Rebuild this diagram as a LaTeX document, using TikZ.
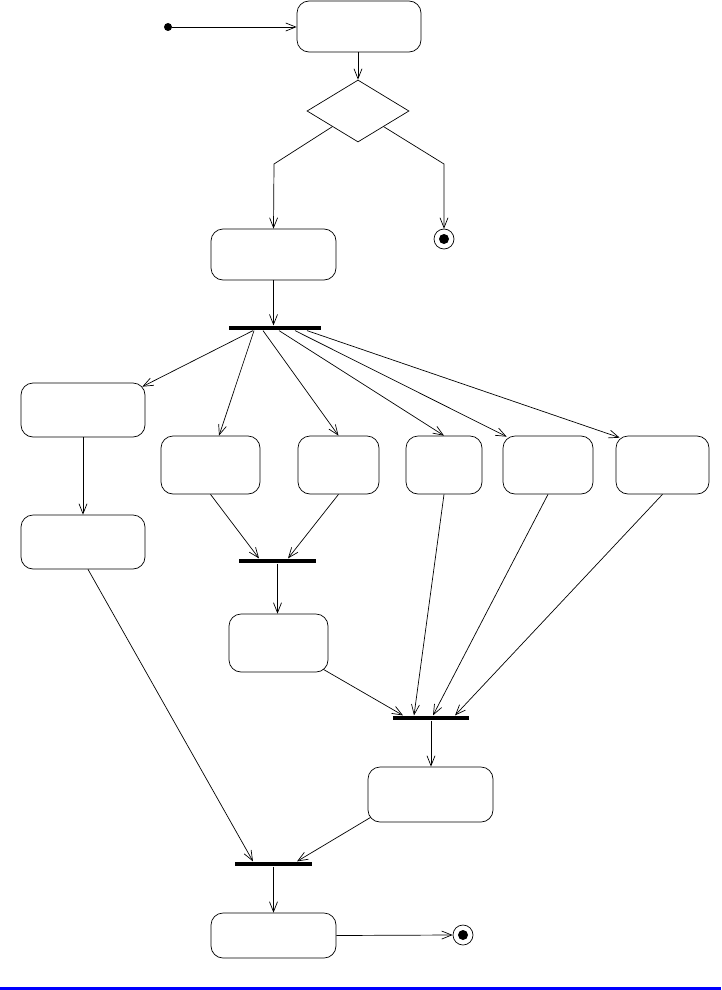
\documentclass[tikz,border=0pt]{standalone}
\usetikzlibrary{arrows.meta,shapes.geometric}

\begin{document}
\begin{tikzpicture}[x=1pt, y=-1pt, line width=0.7pt,
    flow/.style={-{Straight Barb[length=10pt,width=8pt]}},
    activity/.style={draw, rounded corners=12pt, inner sep=0pt},
    syncbar/.style={fill=black, inner sep=0pt, minimum height=4.5pt},
    startdot/.style={circle, fill=black, inner sep=0pt, minimum size=8pt},
    enddot/.style={circle, draw, inner sep=0pt, minimum size=20pt,
        path picture={\fill (path picture bounding box.center) circle (5pt);}},
    choice/.style={diamond, draw, inner sep=0pt, minimum width=102pt, minimum height=62pt}]
    \useasboundingbox (0,0) rectangle (721,990);

    % top: start, first activity, decision
    \node[startdot] (init) at (168,27) {};
    \node[activity, minimum width=124pt, minimum height=51pt] (A) at (359,26.5) {};
    \node[choice] (dia) at (358,111) {};
    \node[activity, minimum width=125pt, minimum height=51pt] (B) at (273.5,254.5) {};
    \node[enddot] (end1) at (444,239) {};
    \coordinate (bendL) at (274,164);
    \coordinate (bendR) at (444,164);

    \draw[flow] (init) -- (A.west |- init);
    \draw[flow] (A.south -| dia.north) -- (dia.north);
    \draw[flow] (dia.south west) -- (bendL) -- (B.north);
    \draw[flow] (dia.south east) -- (bendR) -- (end1.north);

    % fork into parallel activities
    \node[syncbar, minimum width=92pt] (fork1) at (275,328) {};
    \node[activity, minimum width=124pt, minimum height=54pt] (C) at (83,410) {};
    \node[activity, minimum width=124pt, minimum height=54pt] (I) at (83,542) {};
    \node[activity, minimum width=99pt, minimum height=58pt] (D) at (210.5,465) {};
    \node[activity, minimum width=81pt, minimum height=58pt] (E) at (338.5,465) {};
    \node[activity, minimum width=76pt, minimum height=58pt] (F) at (444,465) {};
    \node[activity, minimum width=90pt, minimum height=58pt] (G) at (548,465) {};
    \node[activity, minimum width=93pt, minimum height=58pt] (H) at (662.5,465) {};

    \draw[flow] (B.south) -- (B.south |- fork1.north);
    \draw[flow] ([xshift=-22pt]fork1.south) -- ([shift={(-3pt,-4pt)}]C.north east);
    \draw[flow] ([xshift=-21pt]fork1.south) -- ([xshift=8.5pt]D.north);
    \draw[flow] ([xshift=-12pt]fork1.south) -- (E.north);
    \draw[flow] ([xshift=4pt]fork1.south) -- (F.north);
    \draw[flow] ([xshift=20pt]fork1.south) -- ([xshift=4pt,yshift=-1pt]G.north west);
    \draw[flow] ([xshift=32pt]fork1.south) -- ([xshift=4pt,yshift=-2pt]H.north west);
    \draw[flow] (C.south) -- (I.north);

    % joins
    \node[syncbar, minimum width=77pt] (fork2) at (277.5,561) {};
    \node[activity, minimum width=99pt, minimum height=58pt] (J) at (278.5,643) {};
    \node[syncbar, minimum width=76pt] (fork3) at (431,718) {};
    \node[activity, minimum width=125pt, minimum height=55pt] (K) at (430.5,794.5) {};
    \node[syncbar, minimum width=77pt] (fork4) at (273.5,864) {};
    \node[activity, minimum width=125pt, minimum height=45pt] (L) at (273.5,935.5) {};
    \node[enddot] (end2) at (463,935) {};

    \draw[flow] (D.south) -- ([xshift=-18.5pt]fork2.north);
    \draw[flow] (E.south) -- ([xshift=10.5pt]fork2.north);
    \draw[flow] (fork2.south) -- (fork2.south |- J.north);
    \draw[flow] ([shift={(-5pt,3pt)}]J.south east) -- ([xshift=-28pt]fork3.north);
    \draw[flow] (F.south) -- ([xshift=-17pt]fork3.north);
    \draw[flow] (G.south) -- ([xshift=2pt]fork3.north);
    \draw[flow] (H.south) -- ([xshift=24pt]fork3.north);
    \draw[flow] (fork3.south) -- (fork3.south |- K.north);
    \draw[flow] ([shift={(3pt,5pt)}]K.south west) -- ([xshift=23.5pt]fork4.north);
    \draw[flow] ([xshift=5pt]I.south) -- ([xshift=-20.5pt]fork4.north);
    \draw[flow] (fork4.south) -- (fork4.south |- L.north);
    \draw[flow] (L.east) -- (end2.west);

    \draw[blue, line width=3pt] (0,988.5) -- (721,988.5);
\end{tikzpicture}
\end{document}
